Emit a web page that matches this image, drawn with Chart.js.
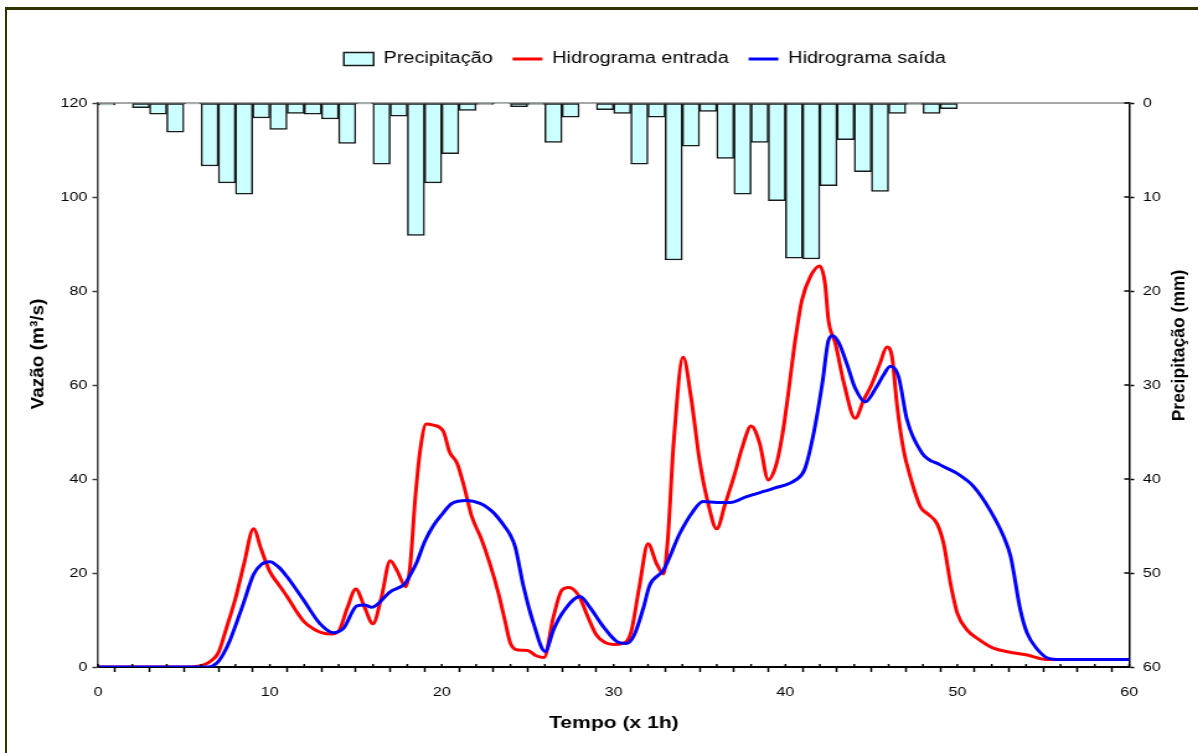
<!DOCTYPE html>
<html><head><meta charset="utf-8">
<script src="https://cdn.jsdelivr.net/npm/chart.js@4.4.1/dist/chart.umd.min.js"></script>
<style>
html,body{margin:0;padding:0;background:#fff;overflow:hidden;width:1198px;height:753px;}
#wrap{position:absolute;left:0;top:0;width:966px;height:753px;transform:scaleX(1.2402);transform-origin:0 0;}
#frame{position:absolute;left:5px;top:7px;width:1300px;height:900px;border-top:3px solid #333300;border-left:2px solid #333300;pointer-events:none;}
</style></head><body>
<div id="wrap"><canvas id="c" width="966" height="753"></canvas></div>
<div id="frame"></div>
<script>
// ---- data ----
const precipHours = [0,1,2,3,4,5,6,7,8,9,10,11,12,13,14,15,16,17,18,19,20,21,22,23,24,25,26,27,28,29,30,31,32,33,34,35,36,37,38,39,40,41,42,43,44,45,46,47,48,49];
const precipMM = [0.2,0,0.5,1.2,3.1,0.1,6.7,8.5,9.7,1.6,2.8,1.1,1.2,1.7,4.3,0.1,6.5,1.4,14.1,8.5,5.4,0.8,0.15,0.05,0.4,0.15,4.2,1.5,0,0.7,1.1,6.5,1.5,16.7,4.6,0.9,5.9,9.7,4.2,10.4,16.5,16.6,8.8,3.9,7.3,9.4,1.1,0.15,1.1,0.6];

const entradaT = [0,5,6,6.5,7,7.5,8,8.5,9.05,9.5,10,10.5,11,11.5,12,12.5,13,13.6,14,14.5,15,15.5,16,16.5,17,17.4,17.9,18.15,18.45,18.75,19.1,19.45,20.1,20.45,20.9,21.3,21.75,22.3,22.8,23.3,23.7,24,24.5,25,25.5,25.95,26.5,27,27.4,28,28.5,29,29.5,30,30.5,31,31.5,32,32.5,32.9,33.15,33.5,34.05,34.5,35,35.5,36,36.5,37,37.5,38,38.5,39,39.4,39.7,39.95,40.18,40.57,40.96,41.44,41.99,42.3,42.5,42.9,43.4,44.06,44.55,45,45.5,45.9,46.2,46.5,46.87,47.26,47.85,48.3,48.8,49.2,49.6,50,50.56,51.2,52.1,53,54,55.2,60];
const entradaQ = [0,0,0.3,1.1,3.0,8.6,14.6,22.0,29.4,25.0,20.3,17.6,15.0,12.1,9.6,8.2,7.3,7.0,7.6,12.5,16.6,12.8,9.2,15.0,22.6,20.5,17.1,21.0,35.5,46.2,51.7,51.5,50.1,45.8,43.3,38.4,32.0,27.3,22.0,15.7,9.5,5.0,3.6,3.5,2.4,2.0,10.7,16.4,16.9,15.0,10.7,6.8,5.2,4.8,5.0,7.2,17.1,26.2,22.0,19.8,27.0,48.0,65.9,57.5,44.0,34.8,29.4,34.8,40.5,46.9,51.3,47.6,39.8,42.3,46.9,52.5,58.7,69.6,78.1,83.0,85.3,81.6,73.8,68.9,60.4,52.9,56.8,60.0,64.6,68.1,66.0,55.4,46.2,40.5,34.1,32.5,30.6,26.3,17.8,11.4,7.9,6.0,4.0,3.2,2.6,1.6,1.6];

const saidaT = [0,6.4,6.9,7.3,7.68,8.46,9.04,9.5,10,10.5,11,11.95,12.9,13.7,14.28,15.06,15.5,15.93,17,17.87,18.2,18.55,19.0,19.5,20,20.59,21.46,22.23,22.7,23.1,23.66,24.0,24.27,24.76,25.34,26.02,26.5,27.08,28.05,28.6,29.4,30.2,30.75,31.2,31.75,32.1,32.9,33.85,34.6,35.2,36,36.8,37.7,39.3,40.6,41.1,41.6,42.15,42.5,42.75,43.1,43.6,44.06,44.64,45.3,45.7,46.1,46.58,47.07,47.95,49,49.98,50.95,51.9,52.7,53.1,53.67,54.06,54.6,55.3,56,60];
const saidaQ = [0,0,0.8,2.8,5.7,13.5,19.6,21.8,22.4,21.3,19.2,14.3,9.3,7.3,8.2,13.0,13.2,12.7,16.0,17.8,19.8,22.3,26.6,30.0,32.4,34.8,35.4,34.8,33.8,32.5,29.9,28.0,25.6,17.1,9.3,3.3,7.9,11.8,15.0,12.8,8.6,5.4,5.0,6.8,12.8,17.4,20.6,28.4,33.0,35.2,35.0,35.0,36.2,38.0,39.8,41.9,49.0,60.5,69.5,70.5,69.0,64.2,59.3,56.4,59.6,62.1,64.0,61.8,52.6,45.5,43.0,41.2,38.4,33.4,27.7,23.5,12.1,7.2,4.0,1.85,1.6,1.6];

const xTickLabels = [0,10,20,30,40,50,60];
const leftTicks = [0,20,40,60,80,100,120];
const rightTicks = [0,10,20,30,40,50,60];

const titleX = 'Tempo (x 1h)';
const titleY = 'Vazão (m³/s)';
const titleY2 = 'Precipitação (mm)';

// ---- chart ----
const FONT = "Arial, 'Liberation Sans', sans-serif";
const SX = 1.2402; // horizontal stretch of the page wrapper
Chart.defaults.font.family = FONT;
Chart.defaults.color = '#000';

const barData = precipHours.map((h, i) => ({x: h + 0.5, y: precipMM[i] > 0 ? precipMM[i] : null}));
const entrada = entradaT.map((t, i) => ({x: t, y: entradaQ[i]}));
const saida = saidaT.map((t, i) => ({x: t, y: saidaQ[i]}));

const extras = {
  id: 'extras',
  afterLayout(chart) {
    chart.legend.left = 74;
    chart.legend.right = 966;
  },
  beforeDatasetsDraw(chart) {
    const {ctx, chartArea: a} = chart;
    ctx.save();
    ctx.strokeStyle = '#888888';
    ctx.lineWidth = 1.5;
    ctx.beginPath();
    ctx.moveTo(a.left, a.top);
    ctx.lineTo(a.right, a.top);
    ctx.stroke();
    ctx.restore();
  },
  afterDraw(chart) {
    const {ctx, chartArea: a, scales: {x, y2}} = chart;
    ctx.save();
    ctx.strokeStyle = '#000';
    ctx.lineWidth = 1.5;
    x.ticks.forEach(t => {
      const px = x.getPixelForValue(t.value);
      ctx.beginPath(); ctx.moveTo(px, a.bottom); ctx.lineTo(px, a.bottom - 3); ctx.stroke();
    });
    y2.ticks.forEach(t => {
      const py = y2.getPixelForValue(t.value);
      ctx.beginPath(); ctx.moveTo(a.right, py); ctx.lineTo(a.right - 4, py); ctx.stroke();
    });
    ctx.fillStyle = '#000';
    ctx.textAlign = 'center';
    ctx.textBaseline = 'middle';
    ctx.font = "bold 17px " + FONT;
    ctx.fillText(titleX, 495, 723);
    ctx.save();
    ctx.translate(31.2, 354);
    ctx.scale(1 / SX, 1);
    ctx.rotate(-Math.PI / 2);
    ctx.font = "bold 19px " + FONT;
    ctx.fillText(titleY, 0, 0);
    ctx.restore();
    ctx.save();
    ctx.translate(951.5, 345.5);
    ctx.scale(1 / SX, 1);
    ctx.rotate(-Math.PI / 2);
    ctx.font = "bold 17.5px " + FONT;
    ctx.fillText(titleY2, 0, 0);
    ctx.restore();
    ctx.restore();
  }
};

new Chart(document.getElementById('c'), {
  type: 'bar',
  data: {
    datasets: [
      {type: 'bar', label: 'Precipitação', data: barData, xAxisID: 'x', yAxisID: 'y2',
       backgroundColor: '#CCFFFF', borderColor: '#1a1a1a', borderWidth: 1.5, borderSkipped: false,
       barPercentage: 1, categoryPercentage: 1, pointStyle: 'rect', order: 3},
      {type: 'line', label: 'Hidrograma entrada', data: entrada, xAxisID: 'x', yAxisID: 'y',
       borderColor: '#FF0000', backgroundColor: '#FF0000', borderWidth: 3, pointRadius: 0,
       cubicInterpolationMode: 'monotone', pointStyle: 'line', order: 2},
      {type: 'line', label: 'Hidrograma saída', data: saida, xAxisID: 'x', yAxisID: 'y',
       borderColor: '#0000FF', backgroundColor: '#0000FF', borderWidth: 3, pointRadius: 0,
       cubicInterpolationMode: 'monotone', pointStyle: 'line', order: 1}
    ]
  },
  options: {
    responsive: false,
    animation: false,
    devicePixelRatio: 1,
    layout: {padding: {left: 0, right: 0, top: 35, bottom: 0}},
    plugins: {
      legend: {
        display: true, position: 'top', weight: 1000,
        labels: {usePointStyle: true, pointStyleWidth: 24, boxHeight: 13, padding: 16,
                 font: {size: 16}, color: '#000',
                 sort: (a, b) => a.datasetIndex - b.datasetIndex}
      },
      title: {display: true, text: '', position: 'top', weight: 500,
              padding: {top: 16, bottom: 0}, font: {size: 10, lineHeight: 1}},
      tooltip: {enabled: false}
    },
    scales: {
      x: {
        type: 'linear', position: 'bottom', min: 0, max: 60, offset: false,
        ticks: {stepSize: 2, autoSkip: false, maxRotation: 0, padding: 13, font: {size: 13},
                callback: v => xTickLabels.includes(v) ? String(v) : ''},
        grid: {drawOnChartArea: false, drawTicks: true, tickLength: 5, tickColor: '#000', tickWidth: 1.5},
        border: {color: '#000', width: 2},
        afterFit: s => { s.height = 86; }
      },
      y: {
        type: 'linear', position: 'left', min: 0, max: 120,
        ticks: {stepSize: 20, padding: 4, font: {size: 13},
                callback: v => leftTicks.includes(v) ? String(v) : ''},
        grid: {drawOnChartArea: false, tickLength: 4.5, tickColor: '#404040', tickWidth: 1.5},
        border: {color: '#404040', width: 1.5},
        afterFit: s => { s.width = 79; }
      },
      y2: {
        type: 'linear', position: 'right', min: 0, max: 60, reverse: true,
        ticks: {stepSize: 10, padding: 7, font: {size: 13},
                callback: v => rightTicks.includes(v) ? String(v) : ''},
        grid: {drawOnChartArea: false, tickLength: 4, tickColor: '#000', tickWidth: 1.5},
        border: {color: '#000', width: 1.5},
        afterFit: s => { s.width = 55.5; }
      }
    }
  },
  plugins: [extras]
});
</script>
</body></html>
